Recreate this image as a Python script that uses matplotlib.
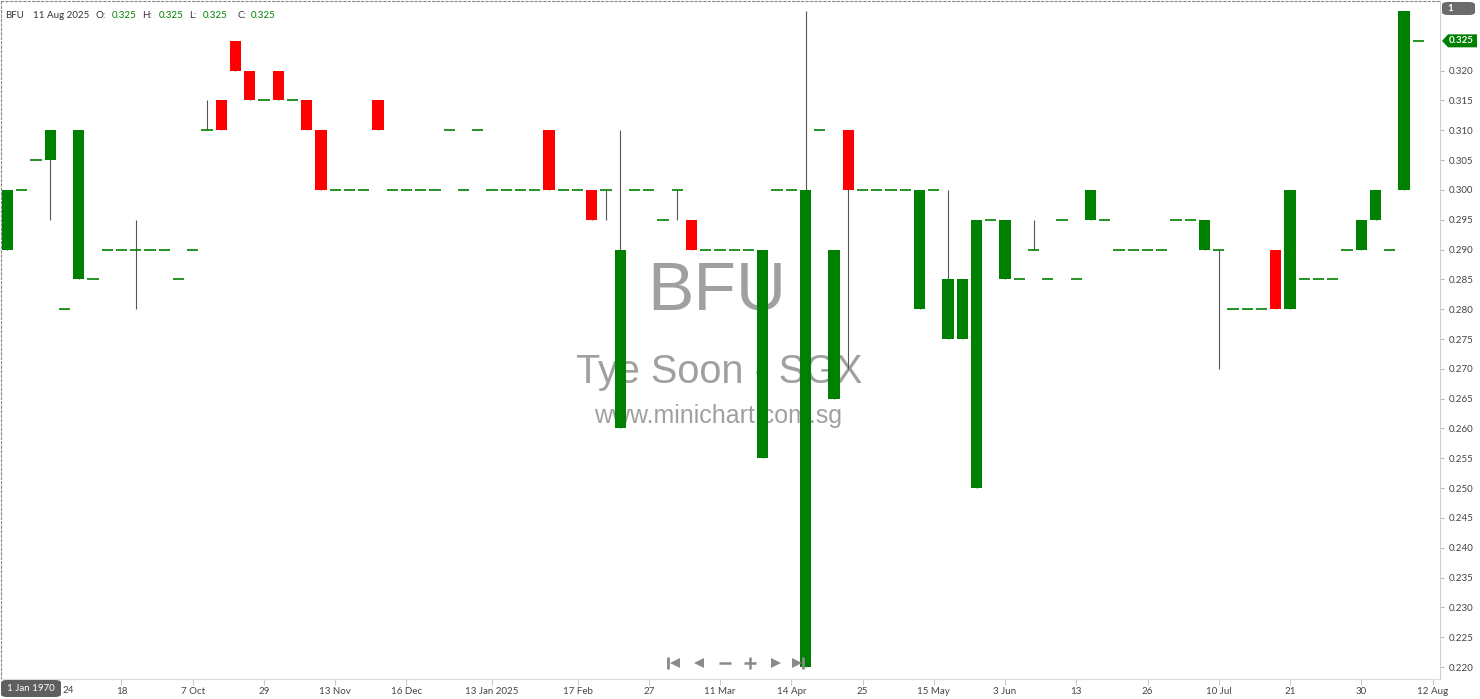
import matplotlib.pyplot as plt
import matplotlib.transforms as mtransforms
from matplotlib.patches import FancyBboxPatch, Polygon
import numpy as np

plt.rcParams['font.family'] = ['Lato', 'DejaVu Sans']

# daily OHLC for BFU (Tye Soon), one entry per traded day
opens = [0.290, 0.300, 0.305, 0.305, 0.280, 0.285, 0.285, 0.290, 0.290, 0.290,
         0.290, 0.290, 0.285, 0.290, 0.310, 0.315, 0.325, 0.320, 0.315, 0.320,
         0.315, 0.315, 0.310, 0.300, 0.300, 0.300, 0.315, 0.300, 0.300, 0.300,
         0.300, 0.310, 0.300, 0.310, 0.300, 0.300, 0.300, 0.300, 0.310, 0.300,
         0.300, 0.300, 0.300, 0.260, 0.300, 0.300, 0.295, 0.300, 0.295, 0.290,
         0.290, 0.290, 0.290, 0.255, 0.300, 0.300, 0.220, 0.310, 0.265, 0.310,
         0.300, 0.300, 0.300, 0.300, 0.280, 0.300, 0.275, 0.275, 0.250, 0.295,
         0.285, 0.285, 0.290, 0.285, 0.295, 0.285, 0.295, 0.295, 0.290, 0.290,
         0.290, 0.290, 0.295, 0.295, 0.290, 0.290, 0.280, 0.280, 0.280, 0.290,
         0.280, 0.285, 0.285, 0.285, 0.290, 0.290, 0.295, 0.290, 0.300, 0.325]
highs = [0.300, 0.300, 0.305, 0.310, 0.280, 0.310, 0.285, 0.290, 0.290, 0.295,
         0.290, 0.290, 0.285, 0.290, 0.315, 0.315, 0.325, 0.320, 0.315, 0.320,
         0.315, 0.315, 0.310, 0.300, 0.300, 0.300, 0.315, 0.300, 0.300, 0.300,
         0.300, 0.310, 0.300, 0.310, 0.300, 0.300, 0.300, 0.300, 0.310, 0.300,
         0.300, 0.300, 0.300, 0.310, 0.300, 0.300, 0.295, 0.300, 0.295, 0.290,
         0.290, 0.290, 0.290, 0.290, 0.300, 0.300, 0.330, 0.310, 0.290, 0.310,
         0.300, 0.300, 0.300, 0.300, 0.300, 0.300, 0.300, 0.285, 0.295, 0.295,
         0.295, 0.285, 0.295, 0.285, 0.295, 0.285, 0.300, 0.295, 0.290, 0.290,
         0.290, 0.290, 0.295, 0.295, 0.295, 0.290, 0.280, 0.280, 0.280, 0.290,
         0.300, 0.285, 0.285, 0.285, 0.290, 0.295, 0.300, 0.290, 0.330, 0.325]
lows = [0.290, 0.300, 0.305, 0.295, 0.280, 0.285, 0.285, 0.290, 0.290, 0.280,
        0.290, 0.290, 0.285, 0.290, 0.310, 0.310, 0.320, 0.315, 0.315, 0.315,
        0.315, 0.310, 0.300, 0.300, 0.300, 0.300, 0.310, 0.300, 0.300, 0.300,
        0.300, 0.310, 0.300, 0.310, 0.300, 0.300, 0.300, 0.300, 0.300, 0.300,
        0.300, 0.295, 0.295, 0.260, 0.300, 0.300, 0.295, 0.295, 0.290, 0.290,
        0.290, 0.290, 0.290, 0.255, 0.300, 0.300, 0.220, 0.310, 0.265, 0.270,
        0.300, 0.300, 0.300, 0.300, 0.280, 0.300, 0.275, 0.275, 0.250, 0.295,
        0.285, 0.285, 0.290, 0.285, 0.295, 0.285, 0.295, 0.295, 0.290, 0.290,
        0.290, 0.290, 0.295, 0.295, 0.290, 0.270, 0.280, 0.280, 0.280, 0.280,
        0.280, 0.285, 0.285, 0.285, 0.290, 0.290, 0.295, 0.290, 0.300, 0.325]
closes = [0.300, 0.300, 0.305, 0.310, 0.280, 0.310, 0.285, 0.290, 0.290, 0.290,
          0.290, 0.290, 0.285, 0.290, 0.310, 0.310, 0.320, 0.315, 0.315, 0.315,
          0.315, 0.310, 0.300, 0.300, 0.300, 0.300, 0.310, 0.300, 0.300, 0.300,
          0.300, 0.310, 0.300, 0.310, 0.300, 0.300, 0.300, 0.300, 0.300, 0.300,
          0.300, 0.295, 0.300, 0.290, 0.300, 0.300, 0.295, 0.300, 0.290, 0.290,
          0.290, 0.290, 0.290, 0.290, 0.300, 0.300, 0.300, 0.310, 0.290, 0.300,
          0.300, 0.300, 0.300, 0.300, 0.300, 0.300, 0.285, 0.285, 0.295, 0.295,
          0.295, 0.285, 0.290, 0.285, 0.295, 0.285, 0.300, 0.295, 0.290, 0.290,
          0.290, 0.290, 0.295, 0.295, 0.295, 0.290, 0.280, 0.280, 0.280, 0.280,
          0.300, 0.285, 0.285, 0.285, 0.290, 0.295, 0.300, 0.290, 0.330, 0.325]

tick_pos = [3, 8, 13, 18, 23, 28, 34, 40, 45, 50, 55, 60, 65, 70, 75, 80, 85, 90, 95, 100]
tick_labels = ['24', '18', '7 Oct', '29', '13 Nov', '16 Dec', '13 Jan 2025', '17 Feb', '27',
               '11 Mar', '14 Apr', '25', '15 May', '3 Jun', '13', '26', '10 Jul', '21', '30', '12 Aug']

symbol = 'BFU'
company = 'Tye Soon - SGX'
last_date = '11 Aug 2025'

GREEN = '#008000'
RED = '#ff0000'
W, H = 1480, 699

o = np.array(opens); c = np.array(closes)
hi = np.array(highs); lo = np.array(lows)
x = np.arange(len(o))

fig = plt.figure(figsize=(W / 100, H / 100), dpi=100)
ax = fig.add_axes([1 / W, 20 / H, 1439 / W, 678 / H])

ax.set_xlim(-0.456, 100.526)
ax.set_ylim(0.21799, 0.33168)

# wicks
ax.vlines(x, lo, hi, color='#555555', lw=0.8, zorder=2)

# bodies
up = c > o
down = c < o
flat = c == o
ax.bar(x[up], (c - o)[up], bottom=o[up], width=0.78, color=GREEN, lw=0, zorder=3)
ax.bar(x[down], (o - c)[down], bottom=c[down], width=0.78, color=RED, lw=0, zorder=3)
ax.hlines(c[flat], x[flat] - 0.39, x[flat] + 0.39, color=GREEN, lw=1.2, zorder=3)

# watermark
wm = dict(transform=ax.transAxes, ha='center', va='center', color='#a0a0a0',
          family=['Liberation Sans', 'DejaVu Sans'], zorder=1)
ax.text(716 / 1439, (678 - 291) / 678, symbol, fontsize=50, **wm)
ax.text(718 / 1439, (678 - 371) / 678, company, fontsize=28.5, **wm)
ax.text(717 / 1439, (678 - 415) / 678, 'www.minichart.com.sg', fontsize=18, **wm)

# axes styling
for s in ['top', 'left']:
    ax.spines[s].set_linestyle((0, (2, 2)))
    ax.spines[s].set_color('#888888')
    ax.spines[s].set_linewidth(0.8)
ax.spines['right'].set_color('#cfcfcf')
ax.spines['bottom'].set_color('#dddddd')

ax.yaxis.tick_right()
ax.set_yticks(np.arange(0.220, 0.3201, 0.005))
ax.yaxis.set_major_formatter(plt.FormatStrFormatter('%.3f'))
ax.tick_params(axis='y', length=3, width=0.8, color='#bbbbbb', pad=3,
               labelsize=7, labelcolor='#444444')

ax.set_xticks(tick_pos)
ax.set_xticklabels([''] + tick_labels[1:])
ax.tick_params(axis='x', length=4, width=0.8, color='#cccccc', pad=2,
               labelsize=7, labelcolor='#444444')
# first label is pushed right by the date box
off = mtransforms.ScaledTranslation(12 / 100, -7 / 100, fig.dpi_scale_trans)
ax.text(tick_pos[0], 0, tick_labels[0], transform=ax.get_xaxis_transform() + off,
        ha='left', va='top', fontsize=7, color='#444444', clip_on=False)

# header line
hy = 1 - 15 / H
fig.text(5 / W, hy, symbol, fontsize=7, color='#333333', va='center')
fig.text(33 / W, hy, last_date, fontsize=7, color='#333333', va='center')
for lab, px, val, vx in [('O:', 95, opens[-1], 112), ('H:', 142, highs[-1], 159),
                         ('L:', 189, lows[-1], 203), ('C:', 237, closes[-1], 251)]:
    fig.text(px / W, hy, lab, fontsize=7, color='#333333', va='center')
    fig.text(vx / W, hy, f'{val:.3f}', fontsize=7, color=GREEN, va='center')

# "1" box top right
fig.patches.append(FancyBboxPatch((1442 / W, 1 - 15 / H), 33 / W, 13 / H,
                                  boxstyle='round,pad=0,rounding_size=0.004',
                                  fc='#6b6b6b', ec='none', transform=fig.transFigure))
fig.text(1447 / W, 1 - 8.5 / H, '1', fontsize=7, color='white', weight='bold', va='center')

# last price tag
bt = mtransforms.blended_transform_factory(fig.transFigure, ax.transData)
last = closes[-1]
dy = 6.5 / 5963.6
tag = Polygon([(1442 / W, last), (1448 / W, last + dy), (1477 / W, last + dy),
               (1477 / W, last - dy), (1448 / W, last - dy)], closed=True,
              fc=GREEN, ec='none', transform=bt, clip_on=False)
ax.add_patch(tag)
ax.text(1449 / W, last, f'{last:.3f}', transform=bt, fontsize=7, color='white',
        weight='bold', va='center', ha='left', clip_on=False)

# date box bottom left
fig.patches.append(FancyBboxPatch((1 / W, 2 / H), 60 / W, 17 / H,
                                  boxstyle='round,pad=0,rounding_size=0.004',
                                  fc='#5f5f5f', ec='none', transform=fig.transFigure))
fig.text(31 / W, 10.5 / H, '1 Jan 1970', fontsize=7, color='white', ha='center', va='center')

# navigation buttons
ny = 1 - 663 / H
nav = dict(color='#8a8a8a', transform=fig.transFigure, clip_on=False, ls='none')
fig.lines.append(plt.Line2D([668 / W], [ny], marker='|', ms=8, mew=2, **nav))
fig.lines.append(plt.Line2D([675 / W], [ny], marker='<', ms=6.5, mew=0, **nav))
fig.lines.append(plt.Line2D([699 / W], [ny], marker='<', ms=6.5, mew=0, **nav))
fig.lines.append(plt.Line2D([724.5 / W], [ny], marker='_', ms=8, mew=1.8, **nav))
fig.lines.append(plt.Line2D([750 / W], [ny], marker='+', ms=8, mew=1.8, **nav))
fig.lines.append(plt.Line2D([776 / W], [ny], marker='>', ms=6.5, mew=0, **nav))
fig.lines.append(plt.Line2D([797 / W], [ny], marker='>', ms=6.5, mew=0, **nav))
fig.lines.append(plt.Line2D([803 / W], [ny], marker='|', ms=8, mew=2, **nav))

fig.savefig('out.png', dpi=100)
